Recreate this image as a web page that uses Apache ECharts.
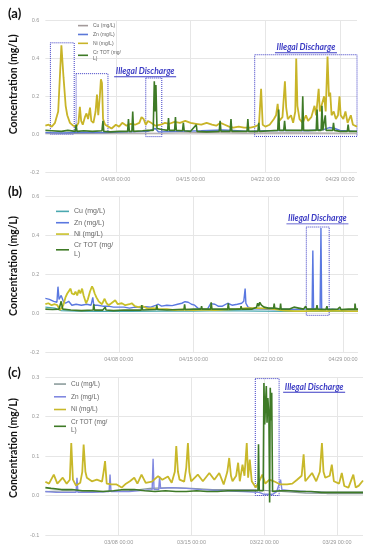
<!DOCTYPE html>
<html><head><meta charset="utf-8">
<script src="https://cdn.jsdelivr.net/npm/echarts@6/dist/echarts.min.js"></script>
<style>html,body{margin:0;padding:0;background:#fff}#c{width:370px;height:550px}</style>
</head><body><div id="c"></div>
<script>
// ---------- DATA ----------
const seriesNames = ['Cu (mg/L)', 'Zn (mg/L)', 'Ni (mg/L)', 'Cr TOT (mg/L)'];

// Panel (a): April, [day of month, mg/L]
const a_Cu = [[1.4,0.005],[4.0,0.004],[8.0,0.006],[12.0,0.005],[16.0,0.008],[20.0,0.006],[24.0,0.007],[28.0,0.006],[30.58,0.005]];
const a_Zn = [[1.4,0.008],[3.0,0.006],[5.0,0.01],[7.0,0.008],[9.0,0.012],[11.0,0.015],[11.7,0.03],[12.0,0.012],[14.0,0.015],[16.0,0.018],[18.0,0.022],[19.0,0.02],[20.5,0.015],[22.0,0.018],[24.0,0.02],[26.0,0.018],[27.5,0.025],[28.0,0.035],[28.5,0.03],[29.0,0.02],[30.58,0.015]];
const a_Ni = [[1.4,0.045],[1.7,0.05],[2.0,0.04],[2.3,0.06],[2.5,0.1],[2.6,0.12],[2.9,0.47],[3.1,0.3],[3.3,0.15],[3.45,0.1],[3.7,0.06],[4.0,0.045],[4.3,0.04],[4.5,0.06],[4.63,0.145],[4.75,0.07],[4.9,0.05],[5.1,0.09],[5.25,0.11],[5.4,0.08],[5.58,0.14],[5.7,0.07],[5.9,0.06],[6.1,0.12],[6.23,0.21],[6.35,0.1],[6.5,0.2],[6.6,0.29],[6.7,0.27],[6.8,0.08],[7.0,0.05],[7.3,0.04],[7.6,0.03],[8.0,0.05],[8.3,0.04],[8.6,0.06],[9.0,0.045],[9.4,0.055],[9.8,0.05],[10.2,0.06],[10.4,0.09],[10.6,0.08],[10.8,0.05],[11.0,0.07],[11.3,0.06],[11.7,0.045],[12.2,0.05],[12.6,0.06],[13.0,0.055],[13.5,0.065],[14.0,0.06],[14.5,0.07],[15.0,0.06],[15.5,0.055],[16.0,0.05],[16.5,0.06],[17.0,0.05],[17.4,0.045],[17.8,0.06],[18.2,0.05],[18.6,0.04],[19.0,0.035],[19.5,0.04],[20.0,0.035],[20.6,0.035],[21.0,0.04],[21.4,0.05],[21.6,0.24],[21.75,0.05],[22.0,0.04],[22.4,0.05],[22.8,0.08],[23.0,0.1],[23.15,0.16],[23.3,0.07],[23.6,0.09],[23.83,0.28],[23.95,0.14],[24.1,0.08],[24.4,0.1],[24.6,0.06],[24.8,0.12],[24.89,0.4],[25.0,0.15],[25.2,0.08],[25.5,0.06],[25.8,0.1],[26.0,0.07],[26.3,0.09],[26.6,0.15],[26.75,0.1],[26.99,0.24],[27.1,0.12],[27.3,0.16],[27.5,0.2],[27.65,0.12],[27.82,0.41],[27.95,0.2],[28.07,0.22],[28.2,0.1],[28.4,0.12],[28.6,0.08],[28.8,0.1],[28.94,0.2],[29.05,0.1],[29.3,0.08],[29.5,0.12],[29.7,0.06],[30.0,0.1],[30.2,0.05],[30.58,0.04]];
const a_Cr = [[1.4,0.02],[2.0,0.018],[2.9,0.015],[3.5,0.02],[4.2,0.015],[4.28,0.05],[4.36,0.015],[5.0,0.018],[5.8,0.015],[6.7,0.018],[6.79,0.07],[6.87,0.015],[7.5,0.012],[8.3,0.015],[9.1,0.015],[9.18,0.08],[9.26,0.015],[9.5,0.015],[9.58,0.12],[9.66,0.015],[10.5,0.018],[11.0,0.02],[11.5,0.02],[11.6,0.28],[11.68,0.12],[11.75,0.26],[11.85,0.03],[12.3,0.025],[12.85,0.02],[12.93,0.085],[13.01,0.02],[13.5,0.02],[13.58,0.09],[13.66,0.02],[14.24,0.018],[14.32,0.06],[14.4,0.018],[15.0,0.015],[15.53,0.05],[15.6,0.015],[16.5,0.012],[17.68,0.015],[17.76,0.07],[17.84,0.015],[18.7,0.015],[18.78,0.08],[18.86,0.015],[19.5,0.015],[20.28,0.015],[20.36,0.08],[20.44,0.015],[21.3,0.015],[21.38,0.06],[21.46,0.015],[22.5,0.018],[23.16,0.02],[23.24,0.13],[23.32,0.02],[23.72,0.02],[23.8,0.07],[23.88,0.02],[24.5,0.02],[25.42,0.02],[25.5,0.2],[25.58,0.02],[26.2,0.02],[26.76,0.02],[26.84,0.13],[26.92,0.02],[27.22,0.02],[27.3,0.15],[27.38,0.02],[27.53,0.02],[27.61,0.1],[27.69,0.02],[28.3,0.02],[28.38,0.06],[28.46,0.02],[29.0,0.015],[29.67,0.015],[29.75,0.05],[29.83,0.015],[30.58,0.015]];

// Panel (b): April
const b_Cu = [[1.12,0.03],[2.0,0.025],[2.6,0.012],[4.0,0.01],[6.0,0.008],[9.0,0.008],[12.0,0.01],[15.0,0.01],[18.0,0.012],[21.0,0.01],[24.0,0.008],[27.0,0.008],[30.4,0.008]];
const b_Zn = [[1.12,0.075],[1.5,0.07],[1.9,0.06],[2.2,0.055],[2.3,0.135],[2.4,0.07],[2.6,0.09],[2.7,0.1],[2.8,0.06],[3.0,0.05],[3.3,0.06],[3.6,0.04],[4.0,0.045],[4.5,0.04],[5.0,0.045],[5.4,0.04],[5.56,0.08],[5.65,0.04],[6.0,0.04],[6.5,0.035],[7.0,0.035],[7.5,0.03],[8.0,0.03],[8.5,0.03],[9.0,0.025],[9.5,0.03],[10.0,0.028],[10.5,0.032],[11.0,0.03],[11.5,0.04],[11.7,0.045],[12.0,0.035],[12.5,0.04],[13.0,0.038],[13.5,0.045],[13.9,0.05],[14.2,0.058],[14.5,0.055],[14.8,0.045],[15.1,0.04],[15.4,0.025],[16.0,0.02],[16.3,0.02],[16.6,0.048],[17.0,0.045],[17.3,0.035],[17.7,0.035],[18.2,0.05],[18.6,0.04],[19.1,0.045],[19.5,0.05],[19.7,0.06],[19.83,0.125],[19.9,0.05],[20.1,0.03],[20.6,0.022],[21.5,0.02],[22.5,0.018],[23.5,0.02],[24.5,0.018],[25.5,0.02],[26.1,0.02],[26.17,0.32],[26.24,0.02],[26.85,0.02],[26.93,0.436],[27.0,0.02],[27.5,0.018],[28.0,0.02],[29.0,0.015],[30.4,0.015]];
const b_Ni = [[1.12,0.045],[1.4,0.05],[1.7,0.04],[2.0,0.045],[2.24,0.04],[2.5,0.015],[2.8,0.04],[3.0,0.08],[3.17,0.1],[3.3,0.09],[3.48,0.125],[3.6,0.1],[3.8,0.095],[3.94,0.11],[4.1,0.09],[4.25,0.118],[4.4,0.1],[4.56,0.125],[4.7,0.09],[4.93,0.05],[5.1,0.07],[5.3,0.11],[5.49,0.137],[5.6,0.125],[5.74,0.1],[5.9,0.08],[6.11,0.06],[6.42,0.045],[6.67,0.073],[6.85,0.05],[7.04,0.04],[7.3,0.05],[7.66,0.065],[7.9,0.045],[8.28,0.05],[8.6,0.04],[9.0,0.045],[9.21,0.05],[9.5,0.035],[9.83,0.03],[10.2,0.035],[10.76,0.022],[11.2,0.025],[11.8,0.02],[12.5,0.02],[13.23,0.015],[14.0,0.018],[15.0,0.015],[16.0,0.018],[17.0,0.015],[18.0,0.018],[19.0,0.02],[19.43,0.022],[20.0,0.025],[21.0,0.025],[22.0,0.022],[22.53,0.02],[23.5,0.012],[24.5,0.01],[25.5,0.01],[26.5,0.012],[27.5,0.01],[28.5,0.012],[29.5,0.01],[30.4,0.01]];
const b_Cr = [[1.12,0.02],[1.8,0.018],[2.4,0.02],[2.6,0.06],[2.75,0.02],[3.5,0.015],[4.5,0.012],[5.6,0.015],[5.65,0.045],[5.72,0.015],[6.5,0.015],[6.73,0.03],[6.8,0.015],[7.5,0.012],[8.5,0.015],[9.5,0.015],[10.1,0.015],[10.15,0.04],[10.22,0.015],[11.5,0.018],[11.55,0.04],[11.62,0.018],[12.5,0.015],[13.5,0.018],[14.1,0.018],[14.16,0.045],[14.22,0.018],[15.0,0.02],[15.7,0.02],[15.75,0.035],[15.8,0.02],[16.6,0.02],[16.65,0.055],[16.72,0.02],[17.5,0.02],[18.2,0.02],[18.25,0.05],[18.32,0.02],[19.4,0.02],[19.45,0.035],[19.5,0.02],[20.5,0.02],[20.9,0.03],[21.0,0.05],[21.1,0.035],[21.2,0.055],[21.35,0.04],[21.5,0.05],[21.6,0.03],[22.0,0.025],[22.5,0.025],[22.55,0.048],[22.6,0.025],[23.1,0.02],[23.15,0.048],[23.2,0.02],[24.0,0.02],[24.4,0.03],[24.5,0.02],[25.3,0.02],[25.5,0.035],[25.6,0.02],[26.5,0.02],[26.56,0.04],[26.62,0.02],[27.4,0.018],[27.49,0.035],[27.55,0.018],[28.5,0.02],[28.7,0.03],[28.8,0.018],[29.5,0.02],[30.1,0.02],[30.12,0.048],[30.18,0.02],[30.4,0.02]];

// Panel (c): March
const c_Cu = [[0.95,0.01],[3.0,0.012],[6.0,0.01],[9.0,0.012],[11.0,0.018],[13.0,0.02],[15.0,0.018],[17.0,0.015],[19.0,0.015],[21.0,0.015],[22.5,0.012],[24.0,0.01],[26.0,0.006],[28.0,0.005],[31.5,0.005]];
const c_Zn = [[0.95,0.01],[2.0,0.008],[3.9,0.008],[3.99,0.045],[4.08,0.008],[5.5,0.008],[7.08,0.01],[7.17,0.053],[7.26,0.01],[9.0,0.01],[11.22,0.015],[11.31,0.093],[11.4,0.015],[11.85,0.015],[11.94,0.048],[12.03,0.018],[13.0,0.02],[14.5,0.018],[16.0,0.015],[18.0,0.012],[20.0,0.01],[21.5,0.008],[22.0,0.003],[22.8,0.003],[23.2,0.01],[23.57,0.04],[23.7,0.015],[24.5,0.012],[26.0,0.01],[28.0,0.008],[30.0,0.008],[31.5,0.008]];
const c_Ni = [[0.95,0.035],[1.3,0.03],[1.76,0.053],[2.1,0.03],[2.62,0.045],[3.0,0.03],[3.3,0.04],[3.44,0.133],[3.6,0.04],[3.9,0.025],[4.3,0.032],[4.5,0.06],[4.63,0.129],[4.8,0.06],[4.94,0.045],[5.42,0.036],[5.9,0.04],[6.4,0.035],[6.55,0.06],[6.69,0.087],[6.85,0.03],[7.3,0.028],[7.8,0.028],[8.29,0.02],[8.7,0.03],[9.08,0.036],[9.5,0.045],[9.8,0.03],[10.2,0.053],[10.6,0.032],[11.2,0.035],[11.79,0.049],[12.2,0.04],[12.74,0.048],[13.1,0.032],[13.4,0.06],[13.54,0.125],[13.7,0.06],[13.86,0.04],[14.3,0.035],[14.5,0.07],[14.66,0.133],[14.8,0.06],[14.97,0.036],[15.61,0.053],[16.1,0.036],[16.72,0.057],[17.2,0.04],[17.67,0.057],[18.1,0.028],[18.45,0.06],[18.63,0.095],[18.8,0.05],[18.95,0.036],[19.3,0.05],[19.49,0.083],[19.65,0.036],[19.91,0.078],[20.1,0.05],[20.32,0.133],[20.45,0.045],[20.61,0.091],[20.8,0.036],[21.18,0.02],[21.5,0.035],[21.82,0.053],[22.1,0.03],[22.5,0.04],[22.93,0.036],[23.57,0.028],[24.2,0.028],[24.7,0.03],[25.16,0.04],[25.6,0.05],[25.79,0.104],[25.95,0.036],[26.6,0.057],[27.0,0.036],[27.35,0.06],[27.55,0.133],[27.7,0.06],[27.87,0.045],[28.3,0.05],[28.5,0.078],[28.7,0.036],[29.2,0.03],[29.46,0.057],[29.7,0.024],[30.1,0.02],[30.57,0.053],[30.8,0.02],[31.1,0.025],[31.5,0.038]];
const c_Cr = [[0.95,0.02],[1.5,0.018],[2.5,0.015],[3.5,0.015],[4.5,0.012],[5.5,0.012],[6.5,0.01],[7.5,0.012],[8.5,0.015],[9.5,0.015],[10.5,0.012],[11.5,0.01],[12.5,0.012],[13.5,0.01],[14.5,0.01],[15.5,0.012],[16.5,0.01],[17.5,0.01],[18.5,0.012],[19.5,0.012],[20.5,0.012],[21.4,0.012],[21.45,0.13],[21.52,0.012],[21.9,0.012],[21.97,0.285],[22.05,0.18],[22.12,0.23],[22.2,0.277],[22.27,0.184],[22.35,0.247],[22.45,0.2],[22.52,-0.018],[22.58,0.273],[22.66,0.19],[22.72,0.26],[22.8,0.01],[23.5,0.012],[24.5,0.012],[25.5,0.01],[26.5,0.01],[27.5,0.008],[28.5,0.008],[29.5,0.008],[30.5,0.008],[31.5,0.008]];

// Tick labels
const tickDaysAB = [8, 15, 22, 29];
const tickLabelsAB = ['04/08 00:00', '04/15 00:00', '04/22 00:00', '04/29 00:00'];
const tickDaysC = [8, 15, 22, 29];
const tickLabelsC = ['03/08 00:00', '03/15 00:00', '03/22 00:00', '03/29 00:00'];
const noteText = 'Illegal Discharge';

// ---------- LAYOUT / STYLE ----------
const panels = [
  { key:'a', label:'(a)', labelTop:7, grid:{left:43,right:13,top:20.7,bottom:378},
    x:[1.4,30.58], y:[-0.2,0.6,0.2], ticks:tickDaysAB, tickLabels:tickLabelsAB,
    data:[a_Cu,a_Zn,a_Ni,a_Cr], colors:['#a39a9a','#5b78d8','#c8b428','#3e7a26'],
    lg:{left:78, top:22.5, fs:5, w:10, gap:2.6}, namePad:24,
    boxes:[[1.87,0.483,4.1,0.0],[4.28,0.32,7.26,0.01],[10.8,0.297,12.3,-0.013],[21.0,0.42,30.58,-0.012]],
    notes:[[10.74,0.33],[25.8,0.457]] },
  { key:'b', label:'(b)', labelTop:185, grid:{left:43,right:12,top:196,bottom:198},
    x:[1.12,30.4], y:[-0.2,0.6,0.2], ticks:tickDaysAB, tickLabels:tickLabelsAB,
    data:[b_Cu,b_Zn,b_Ni,b_Cr], colors:['#4aa8b0','#5a78e0','#c8c02a','#3e7a26'],
    lg:{left:56, top:207, fs:7, w:13, gap:2.6}, namePad:16,
    boxes:[[25.56,0.441,27.7,-0.012]],
    notes:[[26.6,0.483]] },
  { key:'c', label:'(c)', labelTop:366, grid:{left:43,right:7,top:377,bottom:15},
    x:[0.95,31.5], y:[-0.1,0.3,0.1], ticks:tickDaysC, tickLabels:tickLabelsC,
    data:[c_Cu,c_Zn,c_Ni,c_Cr], colors:['#8c9c9c','#8088e0','#c8b82a','#3e7a26'],
    lg:{left:54, top:380, fs:6.5, w:12, gap:4.6}, namePad:16,
    boxes:[[21.14,0.296,23.43,0.0]],
    notes:[[26.8,0.274]] }
];
const widths = [1.2, 1.4, 1.8, 1.6];
const noteColor = '#3b3bc4';

const option = {
  animation:false,
  backgroundColor:'#fff',
  title: panels.map(p => ({ text:p.label, left:8, top:p.labelTop, padding:0,
    textStyle:{fontSize:13, fontWeight:'bold', fontFamily:'Lato', color:'#111'} })),
  grid: panels.map(p => Object.assign({containLabel:false}, p.grid)),
  legend: panels.map(p => ({
    orient:'vertical', left:p.lg.left, top:p.lg.top, icon:'rect',
    itemWidth:p.lg.w, itemHeight:1.6, itemGap:p.lg.gap, padding:0, selectedMode:false,
    data: seriesNames.map(n => p.key + '|' + n),
    formatter: n => n.split('|')[1].replace('Cr TOT (mg/L)', 'Cr TOT (mg/\nL)'),
    textStyle:{fontSize:p.lg.fs, color:'#666', fontFamily:'Liberation Sans', lineHeight:p.lg.fs*1.25}
  })),
  xAxis: panels.map((p,i) => ({
    type:'value', gridIndex:i, min:p.x[0], max:p.x[1],
    axisLine:{show:false},
    axisTick:{show:false, customValues:p.ticks},
    axisLabel:{customValues:p.ticks, fontSize:5.5, color:'#999', margin:4, fontFamily:'Liberation Sans',
      formatter: v => p.tickLabels[p.ticks.indexOf(v)] || ''},
    splitLine:{show:true, lineStyle:{color:'#e6e6e6', width:1}}
  })),
  yAxis: panels.map((p,i) => ({
    type:'value', gridIndex:i, min:p.y[0], max:p.y[1], interval:p.y[2],
    axisLine:{show:false}, axisTick:{show:false},
    axisLabel:{fontSize:5.5, color:'#999', margin:6, fontFamily:'Liberation Sans', formatter: v => v.toFixed(1)},
    splitLine:{show:true, lineStyle:{color:'#e6e6e6', width:1}},
    name:'Concentration (mg/L)', nameLocation:'middle', nameGap:20,
    nameTextStyle:{fontSize:10.5, fontWeight:'bold', fontFamily:'Lato', color:'#111', padding:[0,0,0,p.namePad]}
  })),
  series: []
};

panels.forEach((p,i) => {
  seriesNames.forEach((n,k) => {
    const s = {
      type:'line', name:p.key + '|' + n, xAxisIndex:i, yAxisIndex:i,
      data:p.data[k], showSymbol:false, symbol:'none',
      color:p.colors[k], lineStyle:{color:p.colors[k], width:widths[k]}
    };
    if (k === 3) {
      s.markArea = { silent:true,
        itemStyle:{color:'rgba(0,0,0,0)', borderColor:noteColor, borderWidth:1, borderType:'dotted'},
        data: p.boxes.map(b => [{xAxis:b[0], yAxis:b[1]}, {xAxis:b[2], yAxis:b[3]}]) };
      s.markPoint = { silent:true, symbol:'circle', symbolSize:1, itemStyle:{color:'rgba(0,0,0,0)'},
        label:{show:true, position:'inside', formatter:'{t|' + noteText + '}\n{u|}',
          rich:{ t:{fontSize:8.5, fontWeight:'bold', fontStyle:'italic', fontFamily:'Lato', color:noteColor, lineHeight:10, align:'center'},
                 u:{width:62, height:0.8, lineHeight:1, backgroundColor:noteColor, align:'center'} } },
        data: p.notes.map(c => ({coord:c})) };
    }
    option.series.push(s);
  });
});

const chart = echarts.init(document.getElementById('c'), null, {renderer:'canvas'});
chart.setOption(option);
</script></body></html>
